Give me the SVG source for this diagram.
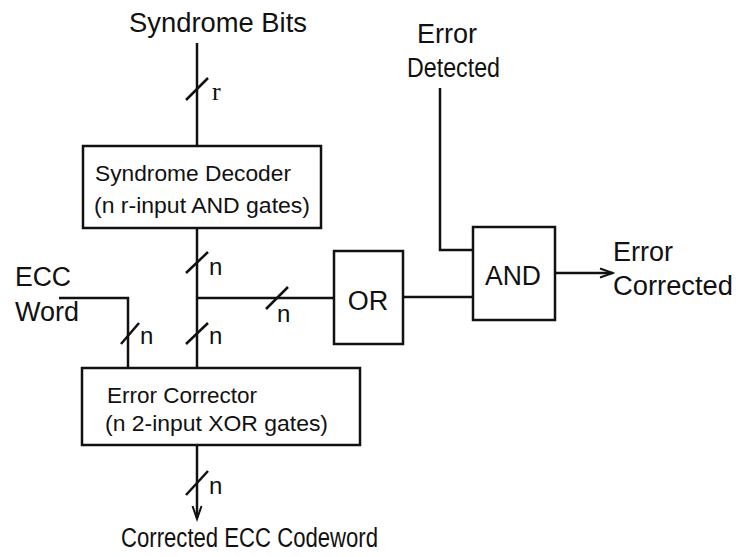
<svg xmlns="http://www.w3.org/2000/svg" width="738" height="557" viewBox="0 0 738 557">
<style>
.ln{fill:none;stroke:#111;stroke-width:2.5;stroke-linecap:butt;stroke-linejoin:miter}
.bx{fill:#fff;stroke:#111;stroke-width:2.5}
.t{font-family:"Liberation Sans",Arial,Helvetica,sans-serif;fill:#111}
.big{font-size:27px}
.mid{font-size:22.5px}
.n{font-size:24px}
.serif{font-family:"Liberation Serif","Times New Roman",serif;font-size:26px;fill:#111}
</style>
<defs>
<marker id="ah" markerWidth="16" markerHeight="12" refX="14" refY="6" orient="auto" markerUnits="userSpaceOnUse">
<path d="M1,1.5 L14,6 L1,10.5" fill="none" stroke="#111" stroke-width="2"/>
</marker>
</defs>
<rect width="738" height="557" fill="#fff"/>
<g id="connectors">
<path class="ln" d="M197 43 V146"/>
<path class="ln" d="M197 228 V368"/>
<path class="ln" d="M197 298 H334"/>
<path class="ln" d="M59 298 H128 V368"/>
<path class="ln" d="M403 297 H473"/>
<path class="ln" d="M440 88 V250 H473"/>
<path class="ln" d="M555 273 H613" marker-end="url(#ah)"/>
<path class="ln" d="M197 445 V518"/>
<path d="M192.5 506 L197 519 L201.5 506" fill="none" stroke="#111" stroke-width="2"/>
<g id="bus-slashes">
<path class="ln" d="M186 100 L208 78"/>
<path class="ln" d="M186 273 L208 252"/>
<path class="ln" d="M186 344 L208 323"/>
<path class="ln" d="M121 344 L139 323"/>
<path class="ln" d="M266 309 L288 287"/>
<path class="ln" d="M186 495 L208 471"/>
</g>
<g id="bus-labels">
<text class="serif" x="212" y="100">r</text>
<text class="t n" x="209" y="275">n</text>
<text class="t n" x="209" y="344">n</text>
<text class="t n" x="140" y="344">n</text>
<text class="t n" x="277" y="322">n</text>
<text class="t n" x="209" y="494">n</text>
</g>
</g>
<g id="syndrome-bits"><text class="t big" x="129" y="32" textLength="178" lengthAdjust="spacingAndGlyphs">Syndrome Bits</text></g>
<g id="syndrome-decoder">
<rect class="bx" x="83" y="146" width="238" height="82"/>
<text class="t mid" x="95" y="181" textLength="196" lengthAdjust="spacingAndGlyphs">Syndrome Decoder</text>
<text class="t mid" x="94" y="213" textLength="216" lengthAdjust="spacingAndGlyphs">(n r-input AND gates)</text>
</g>
<g id="ecc-word">
<text class="t big" x="15" y="286" textLength="56" lengthAdjust="spacingAndGlyphs">ECC</text>
<text class="t big" x="15" y="321" textLength="64" lengthAdjust="spacingAndGlyphs">Word</text>
</g>
<g id="error-corrector">
<rect class="bx" x="82" y="368" width="278" height="77"/>
<text class="t mid" x="107" y="403" textLength="150" lengthAdjust="spacingAndGlyphs">Error Corrector</text>
<text class="t mid" x="105" y="431" textLength="223" lengthAdjust="spacingAndGlyphs">(n 2-input XOR gates)</text>
</g>
<g id="or-gate">
<rect class="bx" x="334" y="251" width="69" height="93"/>
<text class="t big" x="368" y="310" text-anchor="middle">OR</text>
</g>
<g id="error-detected">
<text class="t big" x="417" y="43" textLength="60" lengthAdjust="spacingAndGlyphs">Error</text>
<text class="t big" x="407" y="77" textLength="93" lengthAdjust="spacingAndGlyphs">Detected</text>
</g>
<g id="and-gate">
<rect class="bx" x="473" y="227" width="82" height="93"/>
<text class="t big" x="485" y="285" textLength="56" lengthAdjust="spacingAndGlyphs">AND</text>
</g>
<g id="error-corrected">
<text class="t big" x="613" y="261" textLength="60" lengthAdjust="spacingAndGlyphs">Error</text>
<text class="t big" x="613" y="295" textLength="120" lengthAdjust="spacingAndGlyphs">Corrected</text>
</g>
<g id="corrected-codeword">
<text class="t big" x="121" y="547" textLength="257" lengthAdjust="spacingAndGlyphs">Corrected ECC Codeword</text>
</g>
</svg>
